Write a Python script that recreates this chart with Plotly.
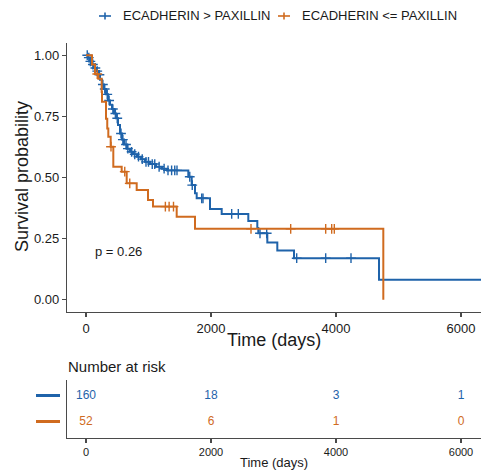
import numpy as np
import plotly.graph_objects as go

# ---------------- data ----------------
groups = ["ECADHERIN > PAXILLIN", "ECADHERIN <= PAXILLIN"]

blue_time = [0, 32, 64, 96, 128, 160, 192, 224, 256, 288, 320, 352, 384, 416, 448,
             480, 512, 544, 576, 608, 656, 704, 752, 816, 880, 944, 1024, 1120, 1216,
             1296, 1637, 1691, 1744, 1771, 1984, 2171, 2597, 2741, 2757, 2901, 3061,
             3328, 4688]
blue_surv = [1.0, 0.99, 0.975, 0.962, 0.948, 0.935, 0.92, 0.9, 0.88, 0.862, 0.84, 0.815,
             0.797, 0.78, 0.762, 0.742, 0.715, 0.68, 0.655, 0.635, 0.618, 0.605, 0.595,
             0.585, 0.575, 0.564, 0.555, 0.544, 0.536, 0.529, 0.503, 0.469, 0.436, 0.415,
             0.371, 0.351, 0.322, 0.293, 0.272, 0.234, 0.201, 0.170, 0.082]
blue_end = 6400
blue_censor = [20, 45, 70, 110, 150, 180, 215, 270, 300, 340, 370, 430, 470, 500, 560,
               590, 640, 670, 730, 780, 840, 900, 960, 1000, 1060, 1100, 1170, 1250, 1312,
               1370, 1420, 1456, 1660, 1700, 1851, 1872, 2331, 2437, 2784, 2891, 3371,
               3835, 4240]

orange_time = [0, 96, 144, 197, 251, 256, 320, 340, 357, 395, 437, 571, 651, 811, 992,
               1072, 1451, 1744, 4757]
orange_surv = [1.0, 0.962, 0.923, 0.904, 0.85, 0.81, 0.74, 0.70, 0.667, 0.626, 0.544,
               0.524, 0.476, 0.449, 0.408, 0.381, 0.340, 0.290, 0.0]
orange_censor = [180, 400, 620, 700, 1270, 1330, 1400, 2640, 3275, 3835, 3931, 3973]

risk_times = [0, 2000, 4000, 6000]
risk_blue = [160, 18, 3, 1]
risk_orange = [52, 6, 1, 0]

x_ticks = [0, 2000, 4000, 6000]
y_ticks = [0, 0.25, 0.5, 0.75, 1.0]
y_ticklabels = ["0.00", "0.25", "0.50", "0.75", "1.00"]
p_text = "p = 0.26"

BLUE = "#1F63AA"
ORANGE = "#D06B1F"
AXIS = "#4a4a4a"
TXT = "#1a1a1a"
FONT = "Liberation Sans, Arial, sans-serif"

W, H = 481, 475


def px(x):
    return x / W


def py(y):
    return 1 - y / H


def surv_at(t, times, surv):
    idx = np.searchsorted(np.array(times), np.array(t), side="right") - 1
    return [surv[i] for i in idx]


fig = go.Figure()

# survival curves
fig.add_trace(go.Scatter(x=blue_time + [blue_end], y=blue_surv + [blue_surv[-1]],
                         mode="lines", line=dict(color=BLUE, width=2, shape="hv"),
                         showlegend=False, xaxis="x", yaxis="y"))
fig.add_trace(go.Scatter(x=blue_censor, y=surv_at(blue_censor, blue_time, blue_surv),
                         mode="markers",
                         marker=dict(symbol="cross-thin", size=7,
                                     line=dict(color=BLUE, width=1.4)),
                         showlegend=False, xaxis="x", yaxis="y"))
fig.add_trace(go.Scatter(x=orange_time, y=orange_surv,
                         mode="lines", line=dict(color=ORANGE, width=2, shape="hv"),
                         showlegend=False, xaxis="x", yaxis="y"))
fig.add_trace(go.Scatter(x=orange_censor, y=surv_at(orange_censor, orange_time, orange_surv),
                         mode="markers",
                         marker=dict(symbol="cross-thin", size=7,
                                     line=dict(color=ORANGE, width=1.4)),
                         showlegend=False, xaxis="x", yaxis="y"))

# risk table
fig.add_trace(go.Scatter(x=risk_times, y=[2] * len(risk_times), mode="text",
                         text=[str(v) for v in risk_blue],
                         textfont=dict(color=BLUE, size=12, family=FONT),
                         showlegend=False, xaxis="x2", yaxis="y2", cliponaxis=False))
fig.add_trace(go.Scatter(x=risk_times, y=[1] * len(risk_times), mode="text",
                         text=[str(v) for v in risk_orange],
                         textfont=dict(color=ORANGE, size=12, family=FONT),
                         showlegend=False, xaxis="x2", yaxis="y2", cliponaxis=False))

xrange = [-304, 6320]
axis_common = dict(showgrid=False, zeroline=False, showline=True, linecolor=AXIS,
                   linewidth=1.2, ticks="outside", ticklen=4, tickcolor=AXIS,
                   tickwidth=1.2)

fig.update_layout(
    width=W, height=H,
    margin=dict(l=0, r=0, t=0, b=0),
    paper_bgcolor="white", plot_bgcolor="white",
    font=dict(family=FONT, color=TXT),
    showlegend=False,
    hovermode=False,
    xaxis=dict(domain=[px(67), 1.0], range=xrange, tickvals=x_ticks,
               tickfont=dict(size=13, color=TXT), anchor="y", **axis_common),
    yaxis=dict(domain=[py(312), py(43)], range=[-0.05, 1.05], tickvals=y_ticks,
               ticktext=y_ticklabels, tickfont=dict(size=13, color=TXT), anchor="x",
               **axis_common),
    xaxis2=dict(domain=[px(67), 1.0], range=xrange, tickvals=x_ticks,
                tickfont=dict(size=11, color=TXT), anchor="y2", **axis_common),
    yaxis2=dict(domain=[py(437.7), py(380)], range=[0.4, 2.6], showgrid=False,
                zeroline=False, showline=True, linecolor=AXIS, linewidth=1.2,
                showticklabels=False, ticks="", anchor="x2"),
)

ann = []
# axis titles
ann.append(dict(text="Time (days)", x=px(274), y=py(340), xref="paper", yref="paper",
                showarrow=False, font=dict(size=18, color=TXT), xanchor="center",
                yanchor="middle"))
ann.append(dict(text="Survival probability", x=px(22), y=py(177), xref="paper",
                yref="paper", showarrow=False, textangle=-90,
                font=dict(size=18, color=TXT), xanchor="center", yanchor="middle"))
ann.append(dict(text=p_text, x=112, y=0.196, xref="x", yref="y", showarrow=False,
                font=dict(size=13, color=TXT), xanchor="left", yanchor="middle"))
ann.append(dict(text="Number at risk", x=px(66), y=py(366), xref="paper", yref="paper",
                showarrow=False, font=dict(size=15, color=TXT), xanchor="left",
                yanchor="middle"))
ann.append(dict(text="Time (days)", x=px(274), y=py(462), xref="paper", yref="paper",
                showarrow=False, font=dict(size=13, color=TXT), xanchor="center",
                yanchor="middle"))

shapes = []
# manual legend at top
leg = [(99, 111, 121, groups[0], BLUE), (278, 290, 299.5, groups[1], ORANGE)]
for x0, x1, xt, label, col in leg:
    shapes.append(dict(type="line", xref="paper", yref="paper", x0=px(x0), x1=px(x1),
                       y0=py(16), y1=py(16), line=dict(color=col, width=1.6)))
    xm = (x0 + x1) / 2
    shapes.append(dict(type="line", xref="paper", yref="paper", x0=px(xm), x1=px(xm),
                       y0=py(12.5), y1=py(19.5), line=dict(color=col, width=1.6)))
    ann.append(dict(text=label, x=px(xt), y=py(16), xref="paper", yref="paper",
                    showarrow=False, font=dict(size=13, color=TXT), xanchor="left",
                    yanchor="middle"))

# risk table strata keys
for yy, col in [(395.5, BLUE), (421.5, ORANGE)]:
    shapes.append(dict(type="line", xref="paper", yref="paper", x0=px(36), x1=px(60),
                       y0=py(yy), y1=py(yy), line=dict(color=col, width=3)))

fig.update_layout(annotations=ann, shapes=shapes)

fig.write_html("out.html", config={"displayModeBar": False, "staticPlot": True})

# remove the default browser body margin so the figure sits at the page origin
with open("out.html", "r", encoding="utf-8") as f:
    html = f.read()
html = html.replace("<body>", '<body style="margin:0;padding:0;overflow:hidden;">', 1)
with open("out.html", "w", encoding="utf-8") as f:
    f.write(html)
